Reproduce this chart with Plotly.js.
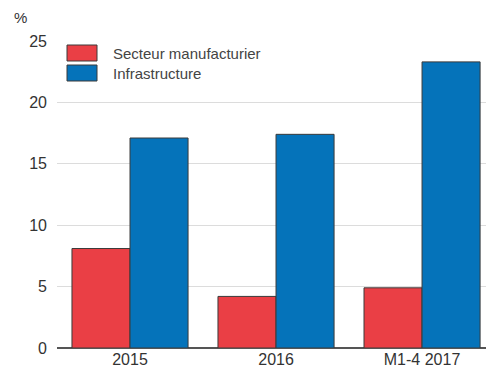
<!DOCTYPE html>
<html>
<head>
<meta charset="utf-8">
<script src="https://cdn.plot.ly/plotly-3.0.1.min.js"></script>
<style>html,body{margin:0;padding:0;background:#fff;}#chart{width:486px;height:368px;}</style>
</head>
<body>
<div id="chart"></div>
<script>
const categories = ["2015", "2016", "M1-4 2017"];
const manufacturing = [8.1, 4.2, 4.9];
const infrastructure = [17.1, 17.4, 23.3];
const seriesNames = ["Secteur manufacturier", "Infrastructure"];
const yTicks = [0, 5, 10, 15, 20, 25];

const redColor = "#ea3f45";
const blueColor = "#0573ba";
const outline = "#3a3a3a";
const font = "Liberation Sans, Arial, sans-serif";

const traces = [
  {type: "bar", name: seriesNames[0], x: categories, y: manufacturing,
   marker: {color: redColor, line: {color: outline, width: 1}}, showlegend: false},
  {type: "bar", name: seriesNames[1], x: categories, y: infrastructure,
   marker: {color: blueColor, line: {color: outline, width: 1}}, showlegend: false}
];

const layout = {
  width: 486, height: 368,
  margin: {l: 57, r: 0, t: 41, b: 20},
  paper_bgcolor: "#fff", plot_bgcolor: "#fff",
  barmode: "group", bargap: 0.205, bargroupgap: 0,
  font: {family: font, size: 16, color: "#333"},
  xaxis: {type: "category", range: [-0.5, 2.438], showgrid: false, ticks: "",
          showline: false, zeroline: false, tickfont: {size: 16, color: "#333"}},
  yaxis: {range: [0, 25], tickvals: yTicks, ticktext: yTicks.map(String),
          showgrid: true, gridcolor: "#dcdcdc", gridwidth: 1,
          zeroline: true, zerolinecolor: "#555", zerolinewidth: 1.5,
          showline: false, ticks: "", ticklabelstandoff: 9,
          tickfont: {size: 16, color: "#333"}},
  shapes: [
    {type: "rect", xref: "paper", yref: "paper", x0: 10/429, x1: 40/429,
     y0: (348-61)/307, y1: (348-45)/307, fillcolor: redColor, line: {color: outline, width: 1}},
    {type: "rect", xref: "paper", yref: "paper", x0: 10/429, x1: 40/429,
     y0: (348-81)/307, y1: (348-65)/307, fillcolor: blueColor, line: {color: outline, width: 1}}
  ],
  annotations: [
    {xref: "paper", yref: "paper", x: 54/429, y: (348-53)/307, xanchor: "left", yanchor: "middle",
     text: seriesNames[0], showarrow: false, font: {size: 15, color: "#444", family: font}},
    {xref: "paper", yref: "paper", x: 54/429, y: (348-73)/307, xanchor: "left", yanchor: "middle",
     text: seriesNames[1], showarrow: false, font: {size: 15, color: "#444", family: font}},
    {xref: "paper", yref: "paper", x: -45/429, y: (348-18)/307, xanchor: "left", yanchor: "middle",
     text: "%", showarrow: false, font: {size: 15, color: "#333", family: font}}
  ]
};

Plotly.newPlot("chart", traces, layout, {staticPlot: true, displayModeBar: false});
</script>
</body>
</html>
